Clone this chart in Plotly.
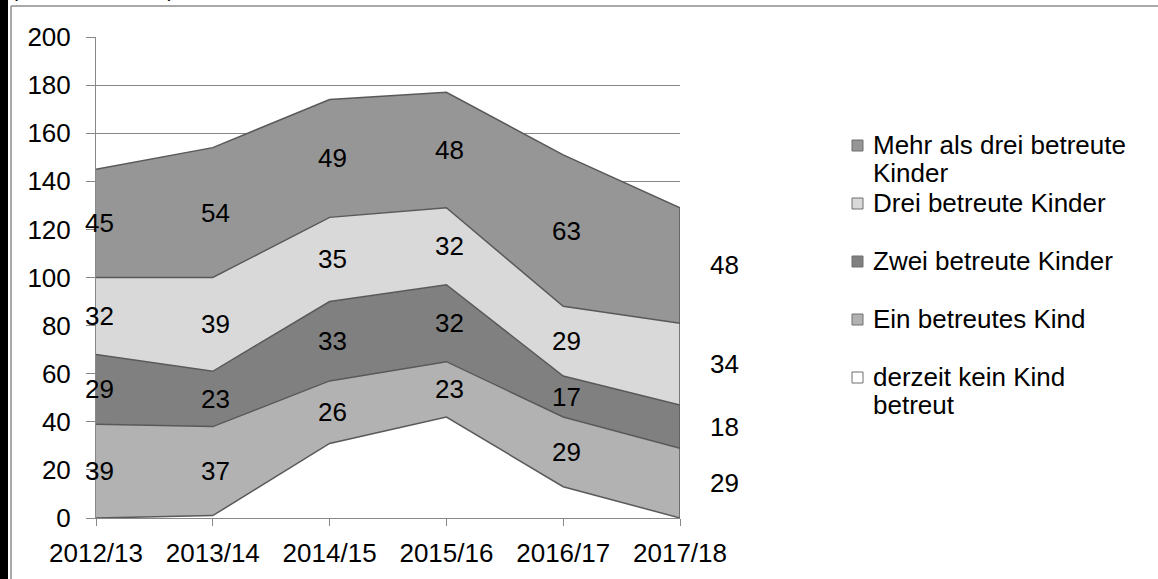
import plotly.graph_objects as go

# School years on the category axis
years = ["2012/13", "2013/14", "2014/15", "2015/16", "2016/17", "2017/18"]

# Child-minders by number of children in care (stacked bottom -> top)
kein_kind = [0, 1, 31, 42, 13, 0]
ein_kind = [39, 37, 26, 23, 29, 29]
zwei_kinder = [29, 23, 33, 32, 17, 18]
drei_kinder = [32, 39, 35, 32, 29, 34]
mehr_als_drei = [45, 54, 49, 48, 63, 48]

series = [
    ("derzeit kein Kind betreut", kein_kind, "#ffffff", False),
    ("Ein betreutes Kind", ein_kind, "#b2b2b2", True),
    ("Zwei betreute Kinder", zwei_kinder, "#808080", True),
    ("Drei betreute Kinder", drei_kinder, "#d9d9d9", True),
    ("Mehr als drei betreute Kinder", mehr_als_drei, "#969696", True),
]

FONT = "Liberation Sans, Arial, sans-serif"
FS = 26
EDGE = "#595959"
GRID = "#888888"

# plot-area pixel geometry (used to place items outside the axes)
L, R, T, B = 96, 680, 37, 518
W, H = 1158, 579


def px(x):
    return (x - L) / (R - L)


def py(y):
    return (B - y) / (B - T)


fig = go.Figure()
for name, vals, color, _ in series:
    fig.add_trace(go.Scatter(
        x=years, y=vals, name=name,
        stackgroup="one", mode="lines",
        line=dict(color=EDGE, width=1.5),
        fillcolor=color, showlegend=False, hoverinfo="skip",
    ))

annotations = []
shapes = []

# value labels in the middle of each band
base = [0] * len(years)
for name, vals, color, labelled in series:
    for i, v in enumerate(vals):
        if labelled:
            annotations.append(dict(
                x=years[i], y=base[i] + v / 2, xref="x", yref="y",
                text=str(v), showarrow=False,
                xshift=44 if i == len(years) - 1 else 3,
                font=dict(family=FONT, size=FS, color="black"),
            ))
        base[i] += v

# right-hand edge of the stacked areas
shapes.append(dict(type="line", xref="x", yref="y",
                   x0=years[-1], x1=years[-1], y0=0, y1=base[-1],
                   line=dict(color=EDGE, width=1.5)))

# legend (top series first); each entry may wrap onto a second line
legend_rows = [
    (["Mehr als drei betreute", "Kinder"], "#969696", 145),
    (["Drei betreute Kinder"], "#d9d9d9", 203),
    (["Zwei betreute Kinder"], "#808080", 261),
    (["Ein betreutes Kind"], "#b2b2b2", 319),
    (["derzeit kein Kind", "betreut"], "#ffffff", 377),
]
for lines, color, yc in legend_rows:
    shapes.append(dict(type="rect", xref="paper", yref="paper",
                       x0=px(852), x1=px(863), y0=py(yc + 6), y1=py(yc - 5),
                       fillcolor=color, line=dict(color="#6e6e6e", width=1)))
    for k, line in enumerate(lines):
        annotations.append(dict(
            x=px(871), y=py(yc + 28 * k), xref="paper", yref="paper",
            xanchor="left", yanchor="middle", align="left",
            text=line, showarrow=False,
            font=dict(family=FONT, size=FS, color="black"),
        ))

# caption line running off the top of the page
annotations.append(dict(
    x=px(9), y=py(3), xref="paper", yref="paper",
    xanchor="left", yanchor="bottom", text="(absolute Zahlen)",
    showarrow=False, font=dict(family=FONT, size=21, color="black"),
))

# chart frame and dark page edge
shapes.append(dict(type="line", xref="paper", yref="paper",
                   x0=px(11), x1=px(11), y0=py(W), y1=py(6),
                   line=dict(color="#8c8c8c", width=1.5)))
shapes.append(dict(type="line", xref="paper", yref="paper",
                   x0=px(11), x1=px(W + 10), y0=py(6), y1=py(6),
                   line=dict(color="#8c8c8c", width=1.5)))
shapes.append(dict(type="rect", xref="paper", yref="paper",
                   x0=px(-2), x1=px(8), y0=py(H + 10), y1=py(-10),
                   fillcolor="black", line=dict(width=0)))

fig.update_layout(
    width=W, height=H, autosize=False,
    margin=dict(l=L, r=W - R, t=T, b=H - B, pad=0),
    paper_bgcolor="white", plot_bgcolor="white",
    font=dict(family=FONT, size=FS, color="black"),
    showlegend=False,
    annotations=annotations, shapes=shapes,
    xaxis=dict(type="category", range=[0, len(years) - 1],
               showgrid=False, zeroline=False,
               showline=True, linecolor=GRID, linewidth=1,
               ticks="outside", ticklen=7, tickcolor=GRID,
               ticklabelstandoff=5,
               tickfont=dict(family=FONT, size=FS, color="black")),
    yaxis=dict(range=[0, 200], dtick=20, tick0=0,
               showgrid=True, gridcolor=GRID, gridwidth=1,
               zeroline=False, showline=True, linecolor=GRID, linewidth=1,
               ticks="outside", ticklen=9, tickcolor=GRID,
               ticklabelstandoff=10,
               tickfont=dict(family=FONT, size=FS, color="black")),
)

fig.write_html("out.html")
